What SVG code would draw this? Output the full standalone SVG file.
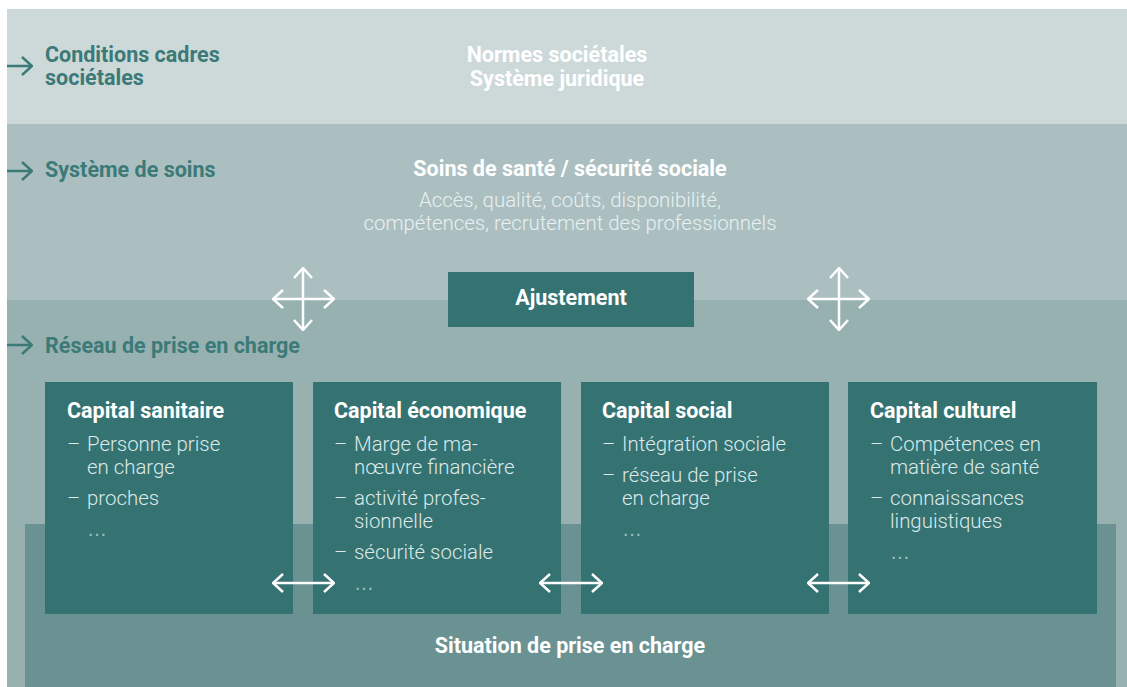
<svg xmlns="http://www.w3.org/2000/svg" width="1127" height="687" viewBox="0 0 1127 687">
  <style>
    .t { font-family: Roboto, "Liberation Sans", Arial, sans-serif; }
    .b { font-weight: 700; font-size: 21.5px; }
    .r { font-weight: 300; font-size: 20.4px; }
    .lbl { fill: #3b7a77; }
    .wh { fill: #ffffff; }
    .sub { fill: #e9f0f0; }
    .item { fill: #dde9e8; }
    .dots { font-family: "Liberation Sans", Arial, sans-serif; font-size: 20px; fill: #9fbebd; }
    .box { fill: #357373; }
    .arr { fill: none; stroke: #ffffff; stroke-width: 2.5; stroke-linecap: butt; }
    .larr { fill: none; stroke: #3b7a77; stroke-width: 2.5; }
  </style>
  <defs>
    <marker id="head" viewBox="0 0 12 20" refX="11" refY="10" markerWidth="12" markerHeight="20" markerUnits="userSpaceOnUse" orient="auto-start-reverse">
      <path d="M1,1 L11,10 L1,19" fill="none" stroke="#ffffff" stroke-width="2.5"/>
    </marker>
    <marker id="headTeal" viewBox="0 0 12 20" refX="11" refY="10" markerWidth="12" markerHeight="20" markerUnits="userSpaceOnUse" orient="auto">
      <path d="M1,1 L11,10 L1,19" fill="none" stroke="#3b7a77" stroke-width="2.5"/>
    </marker>
  </defs>

  <!-- layered background bands -->
  <g id="bands">
    <rect x="7" y="9" width="1120" height="115" fill="#cdd9d9"/>
    <rect x="7" y="124" width="1120" height="176" fill="#abbfc1"/>
    <rect x="7" y="300" width="1120" height="387" fill="#97b1b1"/>
    <rect x="25" y="524" width="1091" height="163" fill="#6a9292"/>
  </g>

  <!-- level labels on the left -->
  <g id="labels" class="t b lbl">
    <text x="45" y="62">Conditions cadres</text>
    <text x="45" y="85">sociétales</text>
    <text x="45" y="177">Système de soins</text>
    <text x="45" y="353">Réseau de prise en charge</text>
  </g>

  <g id="societal-frame" class="t b wh" text-anchor="middle">
    <text x="557" y="62">Normes sociétales</text>
    <text x="557" y="86">Système juridique</text>
  </g>

  <g id="care-system" class="t" text-anchor="middle">
    <text class="b wh" x="570" y="176">Soins de santé / sécurité sociale</text>
    <text class="r sub" x="570" y="207">Accès, qualité, coûts, disponibilité,</text>
    <text class="r sub" x="570" y="230">compétences, recrutement des professionnels</text>
  </g>

  <g id="ajustement">
    <rect class="box" x="448" y="272" width="246" height="55"/>
    <text class="t b wh" x="571" y="305" text-anchor="middle">Ajustement</text>
  </g>

  <g id="capital-sanitaire">
    <rect class="box" x="45" y="382" width="248" height="232"/>
    <text class="t b wh" x="67" y="418">Capital sanitaire</text>
    <g class="t r item">
      <text x="67" y="451">–</text><text x="87" y="451">Personne prise</text>
      <text x="87" y="474">en charge</text>
      <text x="67" y="505">–</text><text x="87" y="505">proches</text>
    </g>
    <text class="dots" x="87" y="536">…</text>
  </g>

  <g id="capital-economique">
    <rect class="box" x="313" y="382" width="248" height="232"/>
    <text class="t b wh" x="334" y="418">Capital économique</text>
    <g class="t r item">
      <text x="334" y="451">–</text><text x="354" y="451">Marge de ma-</text>
      <text x="354" y="474">nœuvre financière</text>
      <text x="334" y="505">–</text><text x="354" y="505">activité profes-</text>
      <text x="354" y="528">sionnelle</text>
      <text x="334" y="559">–</text><text x="354" y="559">sécurité sociale</text>
    </g>
    <text class="dots" x="354" y="590">…</text>
  </g>

  <g id="capital-social">
    <rect class="box" x="581" y="382" width="248" height="232"/>
    <text class="t b wh" x="602" y="418">Capital social</text>
    <g class="t r item">
      <text x="602" y="451">–</text><text x="622" y="451">Intégration sociale</text>
      <text x="602" y="482">–</text><text x="622" y="482">réseau de prise</text>
      <text x="622" y="505">en charge</text>
    </g>
    <text class="dots" x="622" y="536">…</text>
  </g>

  <g id="capital-culturel">
    <rect class="box" x="848" y="382" width="249" height="232"/>
    <text class="t b wh" x="870" y="418">Capital culturel</text>
    <g class="t r item">
      <text x="870" y="451">–</text><text x="890" y="451">Compétences en</text>
      <text x="890" y="474">matière de santé</text>
      <text x="870" y="505">–</text><text x="890" y="505">connaissances</text>
      <text x="890" y="528">linguistiques</text>
    </g>
    <text class="dots" x="890" y="559">…</text>
  </g>

  <g id="situation">
    <text class="t b wh" x="570" y="653" text-anchor="middle">Situation de prise en charge</text>
  </g>

  <!-- arrows -->
  <g id="connectors">
    <path class="larr" d="M7,66 H32" marker-end="url(#headTeal)"/>
    <path class="larr" d="M7,171 H32" marker-end="url(#headTeal)"/>
    <path class="larr" d="M7,345 H32" marker-end="url(#headTeal)"/>

    <path class="arr" d="M273,299 H334" marker-start="url(#head)" marker-end="url(#head)"/>
    <path class="arr" d="M303,268 V330" marker-start="url(#head)" marker-end="url(#head)"/>
    <path class="arr" d="M808,299 H869" marker-start="url(#head)" marker-end="url(#head)"/>
    <path class="arr" d="M839,268 V330" marker-start="url(#head)" marker-end="url(#head)"/>

    <path class="arr" d="M273,583 H334" marker-start="url(#head)" marker-end="url(#head)"/>
    <path class="arr" d="M540,583 H602" marker-start="url(#head)" marker-end="url(#head)"/>
    <path class="arr" d="M808,583 H869" marker-start="url(#head)" marker-end="url(#head)"/>
  </g>
</svg>
